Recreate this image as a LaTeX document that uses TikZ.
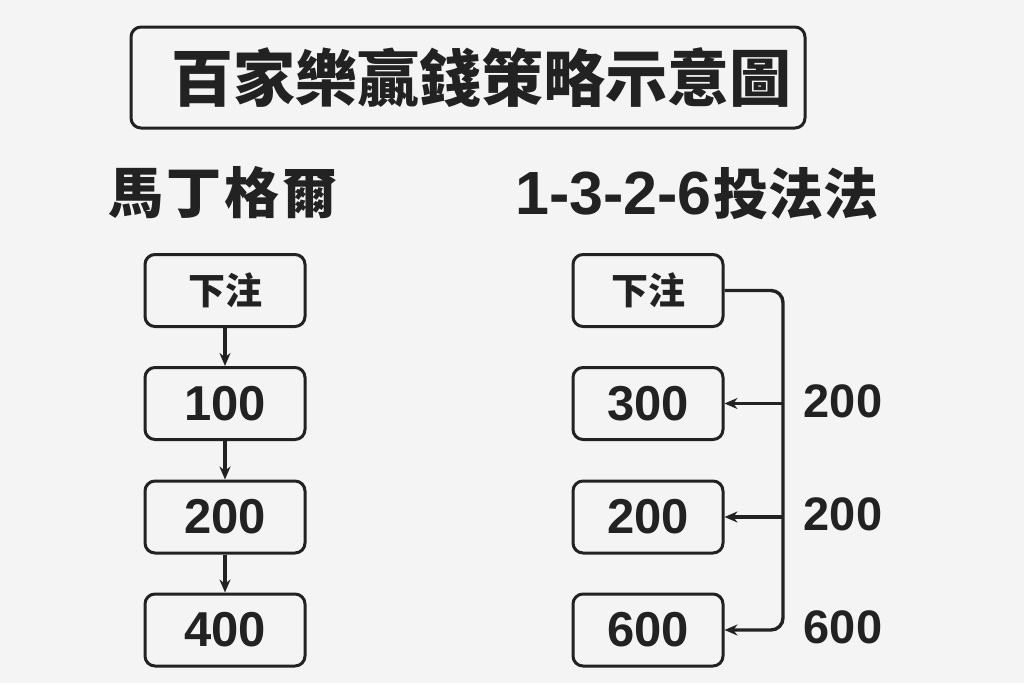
\documentclass[tikz,border=0pt]{standalone}
\usepackage{fontspec}
\setmainfont{Noto Sans CJK TC}
\newfontfamily\cjk{Noto Sans CJK TC}
\newfontfamily\lat{Liberation Sans}
\usetikzlibrary{arrows.meta}
\definecolor{bg}{HTML}{F4F4F4}
\definecolor{ink}{HTML}{222222}
\begin{document}
\begin{tikzpicture}[x=1pt,y=-1pt,
  box/.style={draw=ink,line width=3pt,rounded corners=10pt,minimum height=72pt,inner sep=0pt,text=ink,font=\lat\bfseries\fontsize{49}{49}\selectfont},
  lbox/.style={box,minimum width=160pt},
  rbox/.style={box,minimum width=150pt},
  arr/.style={draw=ink,line width=3.4pt,-{Stealth[length=13pt,width=11pt]}},
  lab/.style={text=ink,font=\lat\bfseries\fontsize{47}{47}\selectfont,inner sep=0pt},
  head/.style={text=ink,font=\cjk\bfseries\fontsize{55}{55}\selectfont,inner sep=0pt}]
\fill[bg] (0,0) rectangle (1024,683);
\useasboundingbox (0,0) rectangle (1024,683);
\node[draw=ink,line width=3pt,rounded corners=10pt,minimum width=674pt,minimum height=101pt,inner sep=0pt] (title) at (468,77.5) {};
\node[text=ink,font=\cjk\bfseries\fontsize{62}{62}\selectfont,inner sep=0pt] (titletext) at (481,78) {百家樂贏錢策略示意圖};
\node[head] (hl) at (223,193) {馬\hspace{3pt}丁\hspace{3pt}格\hspace{3pt}爾};
\node[head] (hr) at (697,194) {{\lat\bfseries\fontsize{61}{61}\selectfont 1-3-2-6}\hspace{2pt}投法法};
\node[lbox,font=\cjk\bfseries\fontsize{37}{37}\selectfont] (l1) at (225,290.5) {下注};
\node[lbox] (l2) at (225,403.5) {100};
\node[lbox] (l3) at (225,517) {200};
\node[lbox] (l4) at (225,630) {400};
\node[rbox,font=\cjk\bfseries\fontsize{37}{37}\selectfont] (r1) at (648,290.5) {下注};
\node[rbox] (r2) at (648,403.5) {300};
\node[rbox] (r3) at (648,517) {200};
\node[rbox] (r4) at (648,630) {600};
\draw[arr] (l1) -- (l2);
\draw[arr] (l2) -- (l3);
\draw[arr] (l3) -- (l4);
\coordinate (bus) at (783,0);
\draw[arr,rounded corners=12pt] (r1.east) -- (r1.east -| bus) -- (r4.east -| bus) -- (r4.east);
\draw[arr] (r2.east -| bus) -- (r2.east);
\draw[arr] (r3.east -| bus) -- (r3.east);
\node[lab] (v1) at (843,401) {200};
\node[lab] (v2) at (843,514) {200};
\node[lab] (v3) at (843,627) {600};
\end{tikzpicture}
\end{document}
